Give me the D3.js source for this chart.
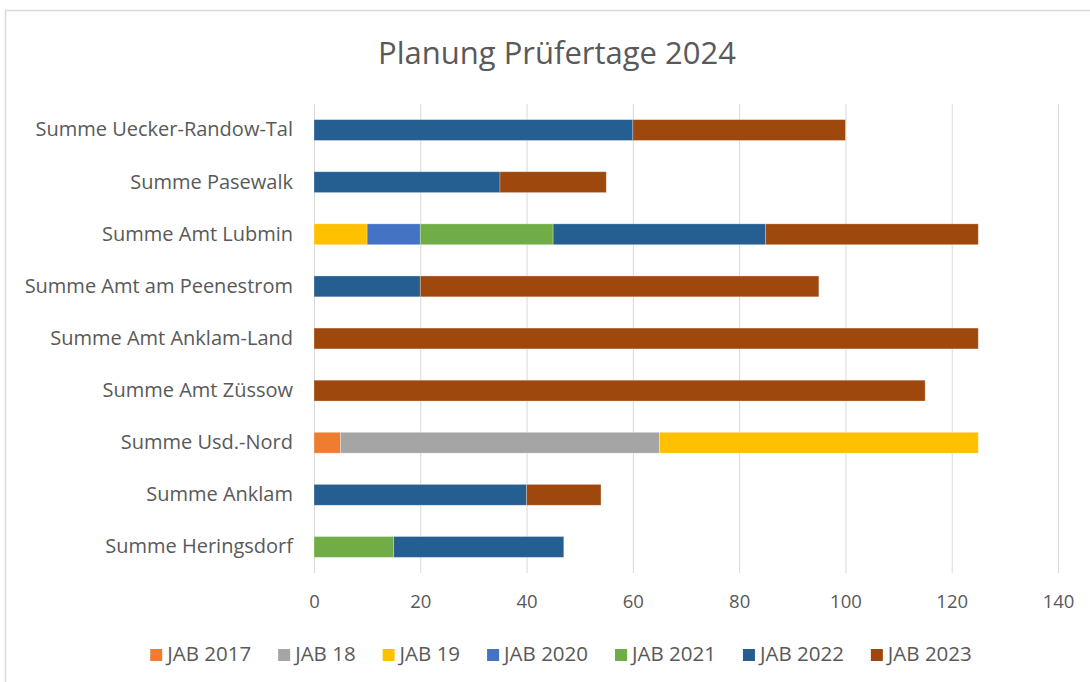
<!DOCTYPE html>
<html><head><meta charset="utf-8">
<script src="https://cdn.jsdelivr.net/npm/d3@7"></script>
<style>body{margin:0;background:#fff}svg{display:block}text{font-family:"Open Sans","Liberation Sans",sans-serif}</style>
</head><body>
<svg id="c" width="1090" height="682"></svg>
<script>
const categories = ["Summe Uecker-Randow-Tal","Summe Pasewalk","Summe Amt Lubmin","Summe Amt am Peenestrom","Summe Amt Anklam-Land","Summe Amt Züssow","Summe Usd.-Nord","Summe Anklam","Summe Heringsdorf"];
const seriesNames = ["JAB 2017","JAB 18","JAB 19","JAB 2020","JAB 2021","JAB 2022","JAB 2023"];
const jab2017 = [0,0,0,0,0,0,5,0,0];
const jab18   = [0,0,0,0,0,0,60,0,0];
const jab19   = [0,0,10,0,0,0,60,0,0];
const jab2020 = [0,0,10,0,0,0,0,0,0];
const jab2021 = [0,0,25,0,0,0,0,0,15];
const jab2022 = [60,35,40,20,0,0,0,40,32];
const jab2023 = [40,20,40,75,125,115,0,14,0];
const xTicks = [0,20,40,60,80,100,120,140];
const colors = ["#ED7D31","#A5A5A5","#FFC000","#4472C4","#70AD47","#255E91","#9E480E"];

const seriesVals = [jab2017,jab18,jab19,jab2020,jab2021,jab2022,jab2023];
const rows = categories.map((c,i)=>{const o={cat:c};seriesNames.forEach((s,j)=>o[s]=seriesVals[j][i]);return o;});
const stacked = d3.stack().keys(seriesNames)(rows);

const svg = d3.select("#c");
svg.append("rect").attr("x",5.5).attr("y",10.5).attr("width",1100).attr("height",700)
  .attr("fill","#fff").attr("stroke","#d9d9d9").attr("stroke-width",1.5);

svg.append("text").attr("x",557).attr("y",64).attr("text-anchor","middle")
  .attr("font-size",31).attr("fill","#595959").text("Planung Prüfertage 2024");

const x = d3.scaleLinear().domain([0,140]).range([314,1058]);
const y = d3.scaleBand().domain(categories).range([104,573]).paddingInner(0.6).paddingOuter(0.3);

svg.append("g").selectAll("line").data(xTicks).join("line")
  .attr("x1",d=>x(d)+0.5).attr("x2",d=>x(d)+0.5).attr("y1",104).attr("y2",573)
  .attr("stroke","#d9d9d9").attr("stroke-width",1);

svg.append("g").selectAll("g").data(stacked).join("g")
  .attr("fill",(d,i)=>colors[i])
  .selectAll("rect").data(d=>d).join("rect")
  .attr("x",d=>x(d[0])).attr("width",d=>x(d[1])-x(d[0]))
  .attr("y",d=>y(d.data.cat)).attr("height",y.bandwidth())
  .attr("stroke","#fff").attr("stroke-opacity",0.35).attr("stroke-width",d=>d[1]>d[0]?0.8:0);

const xa = svg.append("g").attr("transform","translate(0,573)")
  .call(d3.axisBottom(x).tickValues(xTicks).tickSize(0).tickPadding(22));
xa.select(".domain").remove();
xa.selectAll("text").attr("font-size",18.5).attr("fill","#595959").attr("font-family","Open Sans, sans-serif");

const ya = svg.append("g").attr("transform","translate(314,0)")
  .call(d3.axisLeft(y).tickSize(0).tickPadding(21));
ya.select(".domain").remove();
ya.selectAll("text").attr("font-size",20).attr("fill","#595959").attr("font-family","Open Sans, sans-serif");

const lg = svg.append("g");
const items = lg.selectAll("g").data(seriesNames).join("g");
items.append("rect").attr("width",12).attr("height",12).attr("y",-12).attr("fill",(d,i)=>colors[i]);
items.append("text").attr("x",17).attr("font-size",20.5).attr("fill","#595959").text(d=>d);
const widths=[];
items.each(function(){widths.push(this.getBBox().width);});
const gap=27;
const total=d3.sum(widths)+gap*(widths.length-1);
let start=561-total/2;
items.attr("transform",(d,i)=>{const t=`translate(${start},661)`;start+=widths[i]+gap;return t;});
</script>
</body></html>
